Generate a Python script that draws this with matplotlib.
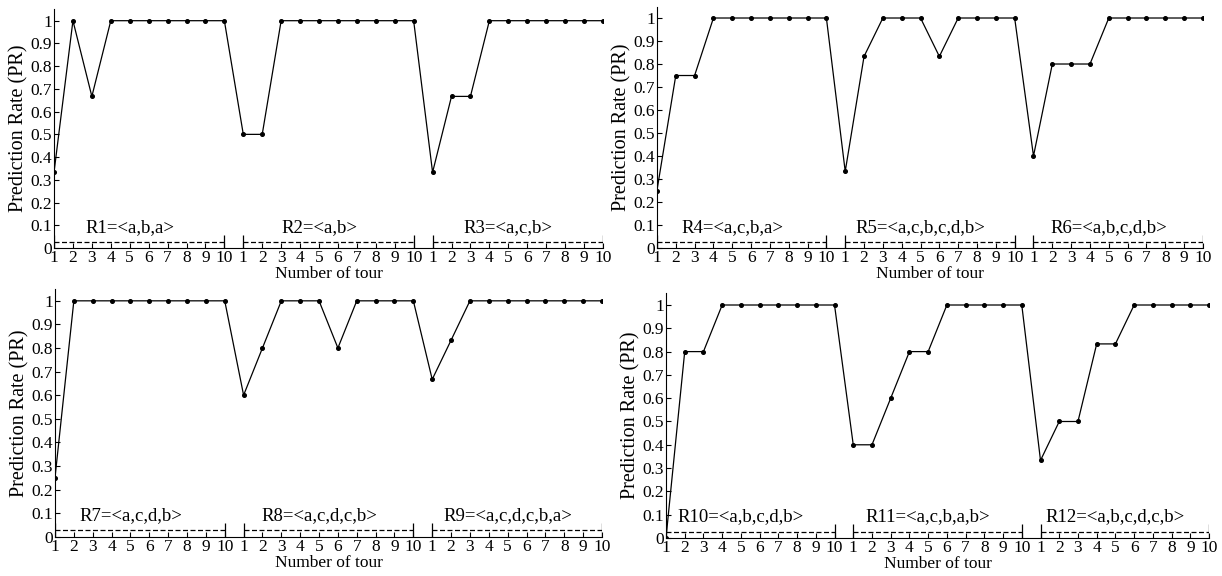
import numpy as np
import matplotlib
matplotlib.use("Agg")
import matplotlib.pyplot as plt

plt.rcParams["font.family"] = ["Liberation Serif", "DejaVu Serif"]
plt.rcParams["font.size"] = 12

# prediction rate per tour, 10 tours per rule
r1 = [0.333, 1, 0.667, 1, 1, 1, 1, 1, 1, 1]
r2 = [0.5, 0.5, 1, 1, 1, 1, 1, 1, 1, 1]
r3 = [0.333, 0.667, 0.667, 1, 1, 1, 1, 1, 1, 1]
r4 = [0.25, 0.75, 0.75, 1, 1, 1, 1, 1, 1, 1]
r5 = [0.333, 0.833, 1, 1, 1, 0.833, 1, 1, 1, 1]
r6 = [0.4, 0.8, 0.8, 0.8, 1, 1, 1, 1, 1, 1]
r7 = [0.25, 1, 1, 1, 1, 1, 1, 1, 1, 1]
r8 = [0.6, 0.8, 1, 1, 1, 0.8, 1, 1, 1, 1]
r9 = [0.667, 0.833, 1, 1, 1, 1, 1, 1, 1, 1]
r10 = [0, 0.8, 0.8, 1, 1, 1, 1, 1, 1, 1]
r11 = [0.4, 0.4, 0.6, 0.8, 0.8, 1, 1, 1, 1, 1]
r12 = [0.333, 0.5, 0.5, 0.833, 0.833, 1, 1, 1, 1, 1]

rule_names = [
    "R1=<a,b,a>", "R2=<a,b>", "R3=<a,c,b>",
    "R4=<a,c,b,a>", "R5=<a,c,b,c,d,b>", "R6=<a,b,c,d,b>",
    "R7=<a,c,d,b>", "R8=<a,c,d,c,b>", "R9=<a,c,d,c,b,a>",
    "R10=<a,b,c,d,b>", "R11=<a,c,b,a,b>", "R12=<a,b,c,d,c,b>",
]
tour_labels = [str(i) for i in range(1, 11)]
y_ticks = [round(0.1 * i, 1) for i in range(11)]

panels = [
    ([r1, r2, r3], rule_names[0:3], [0.0442, 0.5694, 0.4492, 0.4144]),
    ([r4, r5, r6], rule_names[3:6], [0.5376, 0.5694, 0.4468, 0.4193]),
    ([r7, r8, r9], rule_names[6:9], [0.0450, 0.0682, 0.4476, 0.4300]),
    ([r10, r11, r12], rule_names[9:12], [0.5450, 0.0660, 0.4444, 0.4247]),
]


def draw_panel(ax, groups, names):
    n = len(groups[0])
    y = np.concatenate(groups)
    x = np.arange(1, len(y) + 1)
    ax.plot(x, y, color="black", linewidth=0.9, marker="o", markersize=2.6)

    for k, name in enumerate(names):
        start = 1 + k * n
        end = start + n - 1
        # dashed bracket under each rule
        ax.plot([start, end], [0.027, 0.027], color="black", linewidth=0.9,
                linestyle=(0, (4, 2)))
        ax.vlines([start, end], 0, 0.058, color="black", linewidth=0.9)
        ax.text(start + n / 2 - 1, 0.09, name, ha="center", va="center",
                fontsize=13.5)

    ax.set_xlim(1, len(y))
    ax.set_ylim(0, 1.05)
    ax.set_xticks(x)
    ax.set_xticklabels(tour_labels * len(groups))
    ax.set_yticks(y_ticks)
    ax.set_yticklabels([f"{v:g}" for v in y_ticks])
    ax.tick_params(axis="both", direction="in", length=3.6, width=0.8,
                   pad=1.5, labelsize=12.5)
    ax.spines["top"].set_visible(False)
    ax.spines["right"].set_visible(False)
    ax.set_xlabel("Number of tour", labelpad=0, fontsize=12.5)
    ax.set_ylabel("Prediction Rate (PR)", labelpad=1, fontsize=14.5)


fig = plt.figure(figsize=(12.22, 5.76), dpi=100)
for groups, names, rect in panels:
    ax = fig.add_axes(rect)
    draw_panel(ax, groups, names)

fig.savefig("out.png", dpi=100)
